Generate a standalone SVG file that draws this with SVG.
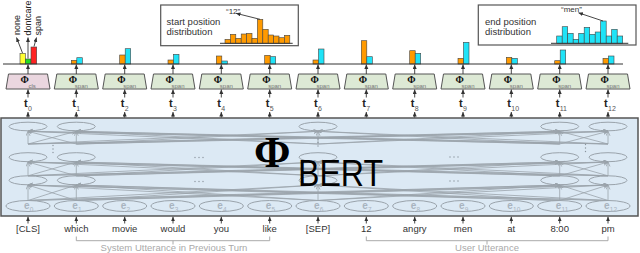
<svg xmlns="http://www.w3.org/2000/svg" width="640" height="253" viewBox="0 0 640 253">
<defs>
<style>
.sans{font-family:"Liberation Sans",Arial,sans-serif}
.serif{font-family:"Liberation Serif","Times New Roman",serif}
.dk{stroke:#333;stroke-width:1;fill:none}
.ak{stroke:#333;stroke-width:0.9;fill:none;marker-end:url(#ak)}
.ag{stroke:#9aa3ab;stroke-width:0.8;fill:none;marker-end:url(#ag)}
.ell{fill:none;stroke:#9aa3ab;stroke-width:1}
.ob{fill:#ff9a00;stroke:#444;stroke-width:0.6}
.cb{fill:#1fe3f7;stroke:#444;stroke-width:0.6}
.box{fill:#fff;stroke:#555;stroke-width:1.2}
.phi{fill:#dde9d5;stroke:#555;stroke-width:1}
.phic{fill:#ead6df;stroke:#555;stroke-width:1}
.phit{font-family:"Liberation Serif","Times New Roman",serif;font-weight:bold;font-size:10px;fill:#111}
.sub{font-family:"Liberation Sans",Arial,sans-serif;font-size:6px;fill:#777}
.t{font-family:"Liberation Sans",Arial,sans-serif;font-weight:bold;font-size:11px;fill:#222}
.ts{font-family:"Liberation Sans",Arial,sans-serif;font-size:7px;fill:#555}
.w{font-family:"Liberation Sans",Arial,sans-serif;font-size:9.5px;fill:#333;text-anchor:middle}
.e{font-family:"Liberation Sans",Arial,sans-serif;font-size:10px;font-weight:bold;fill:#a9b4bf}
.es{font-family:"Liberation Sans",Arial,sans-serif;font-size:6.5px;fill:#a9b4bf}
.lbl{font-family:"Liberation Sans",Arial,sans-serif;font-size:9.5px;fill:#333}
.gl{font-family:"Liberation Sans",Arial,sans-serif;font-size:9.5px;fill:#aaa;text-anchor:middle}
.br{stroke:#aaa;stroke-width:1;fill:none}
.dot{fill:#8a949c}
</style>
<marker id="ak" markerUnits="userSpaceOnUse" markerWidth="6" markerHeight="5" refX="4.5" refY="2" orient="auto"><path d="M0,0 L4.5,2 L0,4 z" fill="#333"/></marker>
<marker id="ag" markerUnits="userSpaceOnUse" markerWidth="6" markerHeight="5" refX="4.5" refY="2" orient="auto"><path d="M0,0 L4.5,2 L0,4" fill="none" stroke="#9aa3ab" stroke-width="0.8"/></marker>
</defs>
<rect width="640" height="253" fill="#fff"/>

<!-- distribution boxes -->
<g id="start-dist">
<rect class="box" x="160.7" y="5" width="137.6" height="40.7"/>
<text class="lbl" x="166.5" y="24.5">start position</text>
<text class="lbl" x="166.5" y="35">distribution</text>
<rect class="ob" x="225" y="39.3" width="5.4" height="4"/>
<rect class="ob" x="230.4" y="34.3" width="5.4" height="9"/>
<rect class="ob" x="235.8" y="38.3" width="5.4" height="5"/>
<rect class="ob" x="241.2" y="34" width="5.4" height="9.3"/>
<rect class="ob" x="246.6" y="33.3" width="5.4" height="10"/>
<rect class="ob" x="252" y="38.3" width="5.4" height="5"/>
<rect class="ob" x="257.4" y="19.3" width="5.4" height="24"/>
<rect class="ob" x="262.8" y="29.3" width="5.4" height="14"/>
<rect class="ob" x="268.2" y="35" width="5.4" height="8.3"/>
<rect class="ob" x="273.6" y="36" width="5.4" height="7.3"/>
<rect class="ob" x="279" y="37.7" width="5.4" height="5.6"/>
<rect class="ob" x="284.4" y="35.3" width="5.4" height="8"/>
<line class="dk" x1="220" y1="43.3" x2="292.7" y2="43.3"/>
<text class="sans" x="226" y="14" font-size="8" fill="#333">“12”</text>
<line class="ak" x1="260" y1="19.3" x2="236" y2="13.3"/>
</g>
<g id="end-dist">
<rect class="box" x="478.3" y="5" width="157.7" height="40"/>
<text class="lbl" x="485" y="24.5">end position</text>
<text class="lbl" x="485" y="35">distribution</text>
<rect class="cb" x="556.7" y="36" width="5.5" height="7.3"/>
<rect class="cb" x="562.2" y="26.7" width="5.5" height="16.6"/>
<rect class="cb" x="567.7" y="33.3" width="5.5" height="10"/>
<rect class="cb" x="573.2" y="39.3" width="5.5" height="4"/>
<rect class="cb" x="578.7" y="33.3" width="5.5" height="10"/>
<rect class="cb" x="584.2" y="27.3" width="5.5" height="16"/>
<rect class="cb" x="589.7" y="34.3" width="5.5" height="9"/>
<rect class="cb" x="595.2" y="32" width="5.5" height="11.3"/>
<rect class="cb" x="600.7" y="21" width="5.5" height="22.3"/>
<rect class="cb" x="606.2" y="36" width="5.5" height="7.3"/>
<rect class="cb" x="611.7" y="29.3" width="5.5" height="14"/>
<rect class="cb" x="617.2" y="36" width="5.5" height="7.3"/>
<line class="dk" x1="551" y1="43.3" x2="628.3" y2="43.3"/>
<text class="sans" x="561" y="12" font-size="8" fill="#333">“men”</text>
<line class="ak" x1="603" y1="21" x2="578.5" y2="12.8"/>
</g>

<!-- classification bars col 0 -->
<g id="cls-bars">
<rect x="20" y="53.3" width="5.3" height="10.7" fill="#ffff33" stroke="#444" stroke-width="0.6"/>
<rect x="25.3" y="59" width="5.7" height="5" fill="#22dd22" stroke="#444" stroke-width="0.6"/>
<rect x="31" y="47" width="5.7" height="17" fill="#ff2222" stroke="#444" stroke-width="0.6"/>
<text class="sans" font-size="9" fill="#222" transform="translate(19.5,35) rotate(-90)">none</text>
<text class="sans" font-size="9" fill="#222" transform="translate(30.5,35.5) rotate(-90)">dontcare</text>
<text class="sans" font-size="9" fill="#222" transform="translate(40.5,35.5) rotate(-90)">span</text>
<line class="ak" x1="22.5" y1="53" x2="16.5" y2="37.5"/>
<line class="ak" x1="28" y1="58.5" x2="28" y2="37.5"/>
<line class="ak" x1="34" y1="46.5" x2="36.5" y2="37.5"/>
</g>

<!-- span bars -->
<g id="span-bars">
<rect class="ob" x="71.3" y="60.3" width="5.5" height="3.7"/><rect class="cb" x="76.8" y="57.7" width="5.5" height="6.3"/>
<rect class="ob" x="119.7" y="55" width="5.5" height="9"/><rect class="cb" x="125.2" y="48.7" width="5.5" height="15.3"/>
<rect class="ob" x="168" y="60" width="5.5" height="4"/><rect class="cb" x="173.5" y="54.3" width="5.5" height="9.7"/>
<rect class="ob" x="216.3" y="56" width="5.5" height="8"/><rect class="cb" x="221.8" y="61" width="5.5" height="3"/>
<rect class="ob" x="264.7" y="55.3" width="5.5" height="8.7"/><rect class="cb" x="270.2" y="56.7" width="5.5" height="7.3"/>
<rect class="ob" x="313" y="60" width="5.5" height="4"/><rect class="cb" x="318.5" y="49" width="5.5" height="15"/>
<rect class="ob" x="361.3" y="40.7" width="5.5" height="23.3"/><rect class="cb" x="366.8" y="56.7" width="5.5" height="7.3"/>
<rect class="ob" x="409.7" y="50.7" width="5.5" height="13.3"/><rect class="cb" x="415.2" y="53.3" width="5.5" height="10.7"/>
<rect class="ob" x="458" y="58.3" width="5.5" height="5.7"/><rect class="cb" x="463.5" y="42.3" width="5.5" height="21.7"/>
<rect class="ob" x="506.3" y="57.3" width="5.5" height="6.7"/><rect class="cb" x="511.8" y="58.3" width="5.5" height="5.7"/>
<rect class="ob" x="554.7" y="60.7" width="5.5" height="3.3"/><rect class="cb" x="560.2" y="50" width="5.5" height="14"/>
<rect class="ob" x="603" y="58.3" width="5.5" height="5.7"/><rect class="cb" x="608.5" y="56" width="5.5" height="8"/>
</g>
<line class="dk" x1="3" y1="64" x2="623" y2="64"/>

<!-- phi heads -->
<g id="phi-cls"><polygon class="phic" points="8.5,74 47.5,74 50,89 6,89"/><text class="phit" x="20.5" y="83.3">Φ</text><text class="sub" x="28.5" y="87.5">cls</text></g>
<g id="phi-1"><polygon class="phi" points="56.8,74 95.8,74 98.3,89 54.3,89"/><text class="phit" x="68.8" y="83.3">Φ</text><text class="sub" x="74.8" y="87.5">span</text></g>
<g id="phi-2"><polygon class="phi" points="105.2,74 144.2,74 146.7,89 102.7,89"/><text class="phit" x="117.2" y="83.3">Φ</text><text class="sub" x="123.2" y="87.5">span</text></g>
<g id="phi-3"><polygon class="phi" points="153.5,74 192.5,74 195,89 151,89"/><text class="phit" x="165.5" y="83.3">Φ</text><text class="sub" x="171.5" y="87.5">span</text></g>
<g id="phi-4"><polygon class="phi" points="201.8,74 240.8,74 243.3,89 199.3,89"/><text class="phit" x="213.8" y="83.3">Φ</text><text class="sub" x="219.8" y="87.5">span</text></g>
<g id="phi-5"><polygon class="phi" points="250.2,74 289.2,74 291.7,89 247.7,89"/><text class="phit" x="262.2" y="83.3">Φ</text><text class="sub" x="268.2" y="87.5">span</text></g>
<g id="phi-6"><polygon class="phi" points="298.5,74 337.5,74 340,89 296,89"/><text class="phit" x="310.5" y="83.3">Φ</text><text class="sub" x="316.5" y="87.5">span</text></g>
<g id="phi-7"><polygon class="phi" points="346.8,74 385.8,74 388.3,89 344.3,89"/><text class="phit" x="358.8" y="83.3">Φ</text><text class="sub" x="364.8" y="87.5">span</text></g>
<g id="phi-8"><polygon class="phi" points="395.2,74 434.2,74 436.7,89 392.7,89"/><text class="phit" x="407.2" y="83.3">Φ</text><text class="sub" x="413.2" y="87.5">span</text></g>
<g id="phi-9"><polygon class="phi" points="443.5,74 482.5,74 485,89 441,89"/><text class="phit" x="455.5" y="83.3">Φ</text><text class="sub" x="461.5" y="87.5">span</text></g>
<g id="phi-10"><polygon class="phi" points="491.8,74 530.8,74 533.3,89 489.3,89"/><text class="phit" x="503.8" y="83.3">Φ</text><text class="sub" x="509.8" y="87.5">span</text></g>
<g id="phi-11"><polygon class="phi" points="540.2,74 579.2,74 581.7,89 537.7,89"/><text class="phit" x="552.2" y="83.3">Φ</text><text class="sub" x="558.2" y="87.5">span</text></g>
<g id="phi-12"><polygon class="phi" points="588.5,74 627.5,74 630,89 586,89"/><text class="phit" x="600.5" y="83.3">Φ</text><text class="sub" x="606.5" y="87.5">span</text></g>

<!-- t labels -->
<g id="t-labels">
<text class="t" x="24" y="106.5">t</text><text class="ts" x="28" y="110.5">0</text>
<text class="t" x="72.3" y="106.5">t</text><text class="ts" x="76.3" y="110.5">1</text>
<text class="t" x="120.7" y="106.5">t</text><text class="ts" x="124.7" y="110.5">2</text>
<text class="t" x="169" y="106.5">t</text><text class="ts" x="173" y="110.5">3</text>
<text class="t" x="217.3" y="106.5">t</text><text class="ts" x="221.3" y="110.5">4</text>
<text class="t" x="265.7" y="106.5">t</text><text class="ts" x="269.7" y="110.5">5</text>
<text class="t" x="314" y="106.5">t</text><text class="ts" x="318" y="110.5">6</text>
<text class="t" x="362.3" y="106.5">t</text><text class="ts" x="366.3" y="110.5">7</text>
<text class="t" x="410.7" y="106.5">t</text><text class="ts" x="414.7" y="110.5">8</text>
<text class="t" x="459" y="106.5">t</text><text class="ts" x="463" y="110.5">9</text>
<text class="t" x="507.3" y="106.5">t</text><text class="ts" x="511.3" y="110.5">10</text>
<text class="t" x="555.7" y="106.5">t</text><text class="ts" x="559.7" y="110.5">11</text>
<text class="t" x="604" y="106.5">t</text><text class="ts" x="608" y="110.5">12</text>
</g>

<!-- BERT -->
<g id="bert">
<rect x="1" y="118" width="637" height="98" fill="#dce9f4" stroke="#555" stroke-width="1.5"/>
<g id="bert-nodes">
<ellipse class="ell" cx="28" cy="126.5" rx="19" ry="4.3"/><ellipse class="ell" cx="76.3" cy="126.5" rx="19" ry="4.3"/><ellipse class="ell" cx="318" cy="126.5" rx="19" ry="4.3"/><ellipse class="ell" cx="559.7" cy="126.5" rx="19" ry="4.3"/><ellipse class="ell" cx="608" cy="126.5" rx="19" ry="4.3"/>
<ellipse class="ell" cx="28" cy="157.2" rx="19" ry="4.5"/><ellipse class="ell" cx="76.3" cy="157.2" rx="19" ry="4.5"/><ellipse class="ell" cx="318" cy="157.2" rx="19" ry="4.5"/><ellipse class="ell" cx="559.7" cy="157.2" rx="19" ry="4.5"/><ellipse class="ell" cx="608" cy="157.2" rx="19" ry="4.5"/>
<ellipse class="ell" cx="28" cy="180.3" rx="19" ry="4.5"/><ellipse class="ell" cx="76.3" cy="180.3" rx="19" ry="4.5"/><ellipse class="ell" cx="318" cy="180.3" rx="19" ry="4.5"/><ellipse class="ell" cx="559.7" cy="180.3" rx="19" ry="4.5"/><ellipse class="ell" cx="608" cy="180.3" rx="19" ry="4.5"/>
<ellipse class="ell" cx="28" cy="206" rx="22" ry="5.5"/><ellipse class="ell" cx="76.3" cy="206" rx="22" ry="5.5"/><ellipse class="ell" cx="124.7" cy="206" rx="22" ry="5.5"/><ellipse class="ell" cx="173" cy="206" rx="22" ry="5.5"/><ellipse class="ell" cx="221.3" cy="206" rx="22" ry="5.5"/><ellipse class="ell" cx="269.7" cy="206" rx="22" ry="5.5"/><ellipse class="ell" cx="318" cy="206" rx="22" ry="5.5"/><ellipse class="ell" cx="366.3" cy="206" rx="22" ry="5.5"/><ellipse class="ell" cx="414.7" cy="206" rx="22" ry="5.5"/><ellipse class="ell" cx="463" cy="206" rx="22" ry="5.5"/><ellipse class="ell" cx="511.3" cy="206" rx="22" ry="5.5"/><ellipse class="ell" cx="559.7" cy="206" rx="22" ry="5.5"/><ellipse class="ell" cx="608" cy="206" rx="22" ry="5.5"/>
</g>
<g id="bert-edges">
<line class="ag" x1="28" y1="200.5" x2="28" y2="185"/><line class="ag" x1="28" y1="200.5" x2="76.3" y2="185"/><line class="ag" x1="28" y1="200.5" x2="318" y2="185"/><line class="ag" x1="28" y1="200.5" x2="559.7" y2="185"/><line class="ag" x1="28" y1="200.5" x2="608" y2="185"/>
<line class="ag" x1="76.3" y1="200.5" x2="28" y2="185"/><line class="ag" x1="76.3" y1="200.5" x2="76.3" y2="185"/><line class="ag" x1="76.3" y1="200.5" x2="318" y2="185"/><line class="ag" x1="76.3" y1="200.5" x2="559.7" y2="185"/><line class="ag" x1="76.3" y1="200.5" x2="608" y2="185"/>
<line class="ag" x1="318" y1="200.5" x2="28" y2="185"/><line class="ag" x1="318" y1="200.5" x2="76.3" y2="185"/><line class="ag" x1="318" y1="200.5" x2="318" y2="185"/><line class="ag" x1="318" y1="200.5" x2="559.7" y2="185"/><line class="ag" x1="318" y1="200.5" x2="608" y2="185"/>
<line class="ag" x1="559.7" y1="200.5" x2="28" y2="185"/><line class="ag" x1="559.7" y1="200.5" x2="76.3" y2="185"/><line class="ag" x1="559.7" y1="200.5" x2="318" y2="185"/><line class="ag" x1="559.7" y1="200.5" x2="559.7" y2="185"/><line class="ag" x1="559.7" y1="200.5" x2="608" y2="185"/>
<line class="ag" x1="608" y1="200.5" x2="28" y2="185"/><line class="ag" x1="608" y1="200.5" x2="76.3" y2="185"/><line class="ag" x1="608" y1="200.5" x2="318" y2="185"/><line class="ag" x1="608" y1="200.5" x2="559.7" y2="185"/><line class="ag" x1="608" y1="200.5" x2="608" y2="185"/>

<line class="ag" x1="28" y1="175.8" x2="28" y2="162"/><line class="ag" x1="28" y1="175.8" x2="76.3" y2="162"/><line class="ag" x1="28" y1="175.8" x2="318" y2="162"/><line class="ag" x1="28" y1="175.8" x2="559.7" y2="162"/><line class="ag" x1="28" y1="175.8" x2="608" y2="162"/>
<line class="ag" x1="76.3" y1="175.8" x2="28" y2="162"/><line class="ag" x1="76.3" y1="175.8" x2="76.3" y2="162"/><line class="ag" x1="76.3" y1="175.8" x2="318" y2="162"/><line class="ag" x1="76.3" y1="175.8" x2="559.7" y2="162"/><line class="ag" x1="76.3" y1="175.8" x2="608" y2="162"/>
<line class="ag" x1="318" y1="175.8" x2="28" y2="162"/><line class="ag" x1="318" y1="175.8" x2="76.3" y2="162"/><line class="ag" x1="318" y1="175.8" x2="318" y2="162"/><line class="ag" x1="318" y1="175.8" x2="559.7" y2="162"/><line class="ag" x1="318" y1="175.8" x2="608" y2="162"/>
<line class="ag" x1="559.7" y1="175.8" x2="28" y2="162"/><line class="ag" x1="559.7" y1="175.8" x2="76.3" y2="162"/><line class="ag" x1="559.7" y1="175.8" x2="318" y2="162"/><line class="ag" x1="559.7" y1="175.8" x2="559.7" y2="162"/><line class="ag" x1="559.7" y1="175.8" x2="608" y2="162"/>
<line class="ag" x1="608" y1="175.8" x2="28" y2="162"/><line class="ag" x1="608" y1="175.8" x2="76.3" y2="162"/><line class="ag" x1="608" y1="175.8" x2="318" y2="162"/><line class="ag" x1="608" y1="175.8" x2="559.7" y2="162"/><line class="ag" x1="608" y1="175.8" x2="608" y2="162"/>

<line class="ag" x1="28" y1="144" x2="28" y2="131.3"/><line class="ag" x1="28" y1="144" x2="76.3" y2="131.3"/><line class="ag" x1="28" y1="144" x2="318" y2="131.3"/><line class="ag" x1="28" y1="144" x2="559.7" y2="131.3"/><line class="ag" x1="28" y1="144" x2="608" y2="131.3"/>
<line class="ag" x1="76.3" y1="144" x2="28" y2="131.3"/><line class="ag" x1="76.3" y1="144" x2="76.3" y2="131.3"/><line class="ag" x1="76.3" y1="144" x2="318" y2="131.3"/><line class="ag" x1="76.3" y1="144" x2="559.7" y2="131.3"/><line class="ag" x1="76.3" y1="144" x2="608" y2="131.3"/>
<line class="ag" x1="318" y1="144" x2="28" y2="131.3"/><line class="ag" x1="318" y1="144" x2="76.3" y2="131.3"/><line class="ag" x1="318" y1="144" x2="318" y2="131.3"/><line class="ag" x1="318" y1="144" x2="559.7" y2="131.3"/><line class="ag" x1="318" y1="144" x2="608" y2="131.3"/>
<line class="ag" x1="559.7" y1="144" x2="28" y2="131.3"/><line class="ag" x1="559.7" y1="144" x2="76.3" y2="131.3"/><line class="ag" x1="559.7" y1="144" x2="318" y2="131.3"/><line class="ag" x1="559.7" y1="144" x2="559.7" y2="131.3"/><line class="ag" x1="559.7" y1="144" x2="608" y2="131.3"/>
<line class="ag" x1="608" y1="144" x2="28" y2="131.3"/><line class="ag" x1="608" y1="144" x2="76.3" y2="131.3"/><line class="ag" x1="608" y1="144" x2="318" y2="131.3"/><line class="ag" x1="608" y1="144" x2="559.7" y2="131.3"/><line class="ag" x1="608" y1="144" x2="608" y2="131.3"/>
</g>
<g id="bert-dots">
<circle class="dot" cx="53" cy="145.5" r="0.7"/><circle class="dot" cx="53" cy="149" r="0.7"/><circle class="dot" cx="53" cy="152.5" r="0.7"/>
<circle class="dot" cx="318" cy="139" r="0.7"/><circle class="dot" cx="318" cy="142.5" r="0.7"/><circle class="dot" cx="318" cy="146" r="0.7"/>
<circle class="dot" cx="585.5" cy="144.5" r="0.7"/><circle class="dot" cx="585.5" cy="148" r="0.7"/><circle class="dot" cx="585.5" cy="151.5" r="0.7"/>
<circle class="dot" cx="195" cy="157.5" r="0.7"/><circle class="dot" cx="199" cy="157.5" r="0.7"/><circle class="dot" cx="203" cy="157.5" r="0.7"/>
<circle class="dot" cx="195" cy="181.5" r="0.7"/><circle class="dot" cx="199" cy="181.5" r="0.7"/><circle class="dot" cx="203" cy="181.5" r="0.7"/>
<circle class="dot" cx="450" cy="157" r="0.7"/><circle class="dot" cx="454" cy="157" r="0.7"/><circle class="dot" cx="458" cy="157" r="0.7"/>
<circle class="dot" cx="450" cy="181" r="0.7"/><circle class="dot" cx="454" cy="181" r="0.7"/><circle class="dot" cx="458" cy="181" r="0.7"/>
</g>
<g id="e-labels">
<text class="e" x="24" y="208.5">e</text><text class="es" x="29.8" y="212">0</text>
<text class="e" x="72.3" y="208.5">e</text><text class="es" x="78.1" y="212">1</text>
<text class="e" x="120.7" y="208.5">e</text><text class="es" x="126.5" y="212">2</text>
<text class="e" x="169" y="208.5">e</text><text class="es" x="174.8" y="212">3</text>
<text class="e" x="217.3" y="208.5">e</text><text class="es" x="223.1" y="212">4</text>
<text class="e" x="265.7" y="208.5">e</text><text class="es" x="271.5" y="212">5</text>
<text class="e" x="314" y="208.5">e</text><text class="es" x="319.8" y="212">6</text>
<text class="e" x="362.3" y="208.5">e</text><text class="es" x="368.1" y="212">7</text>
<text class="e" x="410.7" y="208.5">e</text><text class="es" x="416.5" y="212">8</text>
<text class="e" x="459" y="208.5">e</text><text class="es" x="464.8" y="212">9</text>
<text class="e" x="507.3" y="208.5">e</text><text class="es" x="513.1" y="212">10</text>
<text class="e" x="555.7" y="208.5">e</text><text class="es" x="561.5" y="212">11</text>
<text class="e" x="604" y="208.5">e</text><text class="es" x="609.8" y="212">12</text>
</g>
<text class="serif" x="254" y="167" font-size="44" font-weight="bold" fill="#000">Φ</text>
<text class="sans" x="298" y="186" font-size="36" fill="#000" textLength="85" lengthAdjust="spacingAndGlyphs">BERT</text>
</g>

<!-- connectors -->
<g id="connectors">
<line class="ak" x1="28" y1="74" x2="28" y2="64.5"/><line class="ak" x1="76.3" y1="74" x2="76.3" y2="64.5"/><line class="ak" x1="124.7" y1="74" x2="124.7" y2="64.5"/><line class="ak" x1="173" y1="74" x2="173" y2="64.5"/><line class="ak" x1="221.3" y1="74" x2="221.3" y2="64.5"/><line class="ak" x1="269.7" y1="74" x2="269.7" y2="64.5"/><line class="ak" x1="318" y1="74" x2="318" y2="64.5"/><line class="ak" x1="366.3" y1="74" x2="366.3" y2="64.5"/><line class="ak" x1="414.7" y1="74" x2="414.7" y2="64.5"/><line class="ak" x1="463" y1="74" x2="463" y2="64.5"/><line class="ak" x1="511.3" y1="74" x2="511.3" y2="64.5"/><line class="ak" x1="559.7" y1="74" x2="559.7" y2="64.5"/><line class="ak" x1="608" y1="74" x2="608" y2="64.5"/>
<line class="ak" x1="28" y1="97.5" x2="28" y2="89.5"/><line class="ak" x1="76.3" y1="97.5" x2="76.3" y2="89.5"/><line class="ak" x1="124.7" y1="97.5" x2="124.7" y2="89.5"/><line class="ak" x1="173" y1="97.5" x2="173" y2="89.5"/><line class="ak" x1="221.3" y1="97.5" x2="221.3" y2="89.5"/><line class="ak" x1="269.7" y1="97.5" x2="269.7" y2="89.5"/><line class="ak" x1="318" y1="97.5" x2="318" y2="89.5"/><line class="ak" x1="366.3" y1="97.5" x2="366.3" y2="89.5"/><line class="ak" x1="414.7" y1="97.5" x2="414.7" y2="89.5"/><line class="ak" x1="463" y1="97.5" x2="463" y2="89.5"/><line class="ak" x1="511.3" y1="97.5" x2="511.3" y2="89.5"/><line class="ak" x1="559.7" y1="97.5" x2="559.7" y2="89.5"/><line class="ak" x1="608" y1="97.5" x2="608" y2="89.5"/>
<line class="ak" x1="28" y1="117.5" x2="28" y2="112"/><line class="ak" x1="76.3" y1="117.5" x2="76.3" y2="112"/><line class="ak" x1="124.7" y1="117.5" x2="124.7" y2="112"/><line class="ak" x1="173" y1="117.5" x2="173" y2="112"/><line class="ak" x1="221.3" y1="117.5" x2="221.3" y2="112"/><line class="ak" x1="269.7" y1="117.5" x2="269.7" y2="112"/><line class="ak" x1="318" y1="117.5" x2="318" y2="112"/><line class="ak" x1="366.3" y1="117.5" x2="366.3" y2="112"/><line class="ak" x1="414.7" y1="117.5" x2="414.7" y2="112"/><line class="ak" x1="463" y1="117.5" x2="463" y2="112"/><line class="ak" x1="511.3" y1="117.5" x2="511.3" y2="112"/><line class="ak" x1="559.7" y1="117.5" x2="559.7" y2="112"/><line class="ak" x1="608" y1="117.5" x2="608" y2="112"/>
<line class="ak" x1="28" y1="223.5" x2="28" y2="216.8"/><line class="ak" x1="76.3" y1="223.5" x2="76.3" y2="216.8"/><line class="ak" x1="124.7" y1="223.5" x2="124.7" y2="216.8"/><line class="ak" x1="173" y1="223.5" x2="173" y2="216.8"/><line class="ak" x1="221.3" y1="223.5" x2="221.3" y2="216.8"/><line class="ak" x1="269.7" y1="223.5" x2="269.7" y2="216.8"/><line class="ak" x1="318" y1="223.5" x2="318" y2="216.8"/><line class="ak" x1="366.3" y1="223.5" x2="366.3" y2="216.8"/><line class="ak" x1="414.7" y1="223.5" x2="414.7" y2="216.8"/><line class="ak" x1="463" y1="223.5" x2="463" y2="216.8"/><line class="ak" x1="511.3" y1="223.5" x2="511.3" y2="216.8"/><line class="ak" x1="559.7" y1="223.5" x2="559.7" y2="216.8"/><line class="ak" x1="608" y1="223.5" x2="608" y2="216.8"/>
</g>

<!-- input words -->
<g id="words">
<text class="w" x="28" y="232">[CLS]</text>
<text class="w" x="76.3" y="232">which</text>
<text class="w" x="124.7" y="232">movie</text>
<text class="w" x="173" y="232">would</text>
<text class="w" x="221.3" y="232">you</text>
<text class="w" x="269.7" y="232">like</text>
<text class="w" x="318" y="232">[SEP]</text>
<text class="w" x="366.3" y="232">12</text>
<text class="w" x="414.7" y="232">angry</text>
<text class="w" x="463" y="232">men</text>
<text class="w" x="511.3" y="232">at</text>
<text class="w" x="559.7" y="232">8:00</text>
<text class="w" x="608" y="232">pm</text>
</g>

<!-- segment brackets -->
<g id="system-utterance">
<path class="br" d="M76.3,236.5 V240.7 H269.7 V236.5 M173,240.7 V244.5"/>
<text class="gl" x="174" y="250.5">System Utterance in Previous Turn</text>
</g>
<g id="user-utterance">
<path class="br" d="M366.3,236.5 V240.7 H608 V236.5 M487,240.7 V244.5"/>
<text class="gl" x="487" y="250.5">User Utterance</text>
</g>
</svg>
